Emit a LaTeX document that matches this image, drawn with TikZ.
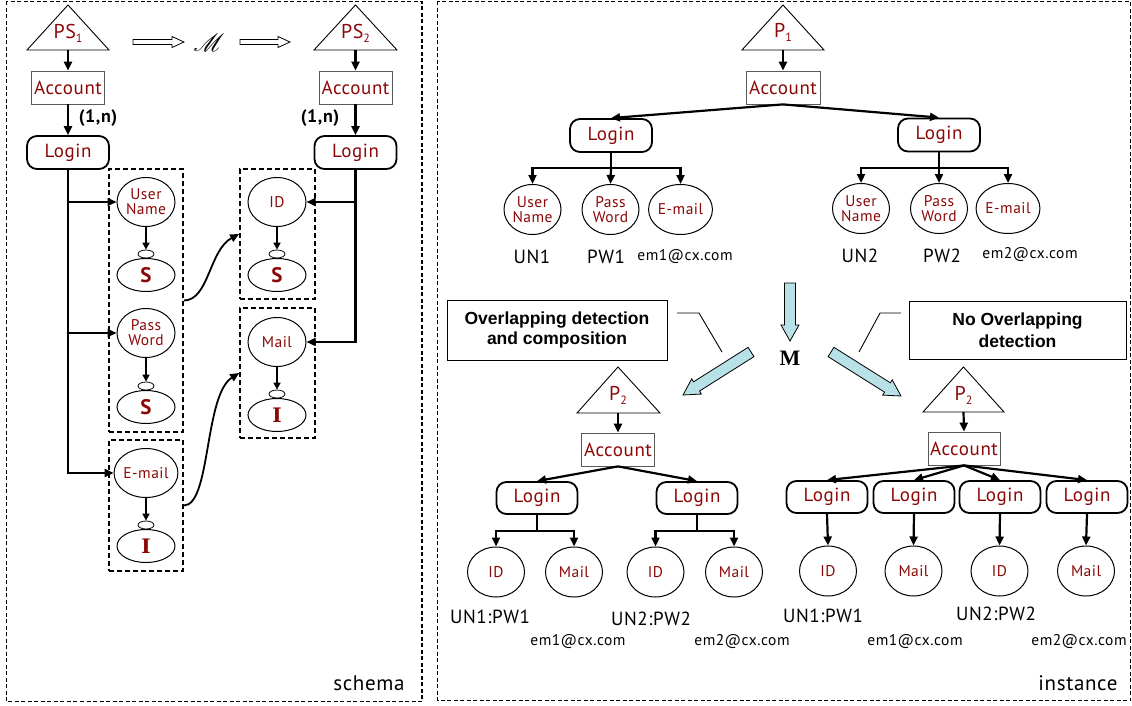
\documentclass[tikz,border=0pt]{standalone}
\usepackage{fontspec}
\usepackage{mathrsfs}
\usetikzlibrary{arrows.meta,shapes.geometric,calc}
\newfontfamily\labfont[LetterSpace=3]{PT Sans}
\newfontfamily\boxfont{Liberation Sans}
\newfontfamily\mfont{Liberation Serif}
\newfontfamily\slabfont{DejaVu Serif}
\definecolor{lab}{RGB}{139,8,8}
\definecolor{cyanfill}{RGB}{183,224,231}
\newcommand\fs[1]{\fontsize{#1}{1.15\dimexpr#1pt\relax}\selectfont}
\newcommand\sub[1]{{\fs{12}\raisebox{-4pt}{#1}}}
% block arrow between two named points: from, to, half shaft, half head, head length, fill
\newcommand\blockarrow[6]{%
  \coordinate (hb) at ($(#2)!#5!(#1)$);
  \draw[line width=0.8pt, fill=#6, line join=miter]
    ($(#1)!#3!90:(#2)$) -- ($(#1)!#3!-90:(#2)$) -- ($(hb)!#3!-90:(#2)$)
    -- ($(hb)!#4!-90:(#2)$) -- (#2) -- ($(hb)!#4!90:(#2)$)
    -- ($(hb)!#3!90:(#2)$) -- cycle;}

\begin{document}
\begin{tikzpicture}[x=1pt,y=-1pt,
  conn/.style={line width=2.2pt,-{Triangle[length=9pt,width=8pt]}},
  plain/.style={line width=2.2pt},
  thin/.style={line width=0.9pt},
  tri/.style={draw,line width=0.9pt,fill=white},
  trilab/.style={font=\labfont\fs{20},text=lab,inner sep=0pt},
  acc/.style={draw=black!65,line width=0.8pt,fill=white,minimum width=73pt,minimum height=33pt,inner sep=0pt,font=\labfont\fs{19},text=lab},
  login/.style={draw,line width=1.8pt,rounded corners=10pt,minimum width=82pt,minimum height=33pt,inner sep=0pt,font=\labfont\fs{19},text=lab},
  attr/.style={ellipse,draw,line width=1pt,minimum width=58pt,minimum height=49pt,inner sep=0pt,font=\labfont\fs{15.5},text=lab,align=center},
  inst/.style={ellipse,draw,line width=1pt,minimum width=57pt,minimum height=50pt,inner sep=0pt,font=\labfont\fs{15.5},text=lab,align=center},
  typ/.style={ellipse,draw,line width=1pt,minimum width=58pt,minimum height=33pt,inner sep=0pt,font=\labfont\bfseries\fs{21},text=lab},
  knob/.style={ellipse,draw,line width=0.8pt,minimum width=16pt,minimum height=8pt,inner sep=0pt},
  grp/.style={draw,line width=1.6pt,dash pattern=on 5pt off 3pt,inner sep=0pt},
  frame/.style={draw,line width=1.4pt,dash pattern=on 4pt off 2.5pt},
  val/.style={font=\labfont\fs{19},inner sep=0pt},
  mailval/.style={font=\labfont\fs{15.5},inner sep=0pt},
  note/.style={draw,line width=0.9pt,fill=white,font=\boxfont\bfseries\fs{17.5},align=center,inner sep=0pt}
]
\useasboundingbox (0,0) rectangle (1132,706);

% ---------------- panel frames ----------------
\path[frame] (6.5,1.5) rectangle (422,701.5);
\path[frame] (437.5,1.5) rectangle (1130.5,700.5);
\node[font=\labfont\fs{21},anchor=east] (schema) at (408,683) {schema};
\node[font=\labfont\fs{21},anchor=east] (instance) at (1121,683) {instance};

% ================= schema =================
\draw[tri] (68,5) -- (109,50) -- (27,50) -- cycle;
\node[trilab] (ps1) at (68,33) {PS\sub{1}};
\coordinate (ps1b) at (68,50);
\draw[tri] (355.5,5) -- (397,50) -- (314,50) -- cycle;
\node[trilab] (ps2) at (355.5,33) {PS\sub{2}};
\coordinate (ps2b) at (355.5,50);

\node[inner sep=0pt,font=\fs{24}] (mm) at (209,43) {$\mathscr{M}$};
\coordinate (ha1) at (133,42); \coordinate (hb1) at (184,42);
\coordinate (ha2) at (240,42); \coordinate (hb2) at (290,42);
\blockarrow{ha1}{hb1}{2.5pt}{5.5pt}{12pt}{white}
\blockarrow{ha2}{hb2}{2.5pt}{5.5pt}{12pt}{white}

\node[acc] (acc1) at (68,87.5) {Account};
\node[login] (login1) at (68,152.5) {Login};
\node[acc] (acc2) at (355.5,87.5) {Account};
\node[login] (login2) at (355.5,152.5) {Login};
\draw[conn] (ps1b) -- (acc1.north);
\draw[conn] (ps2b) -- (acc2.north);
\draw[conn] (acc1.south) -- (login1.north);
\draw[conn] (acc2.south) -- (login2.north);
\node[font=\labfont\bfseries\fs{18}] (card1) at (98,118) {(1,n)};
\node[font=\labfont\bfseries\fs{18}] (card2) at (320,118) {(1,n)};

% groups
\node[grp,minimum width=74pt,minimum height=263pt] (g1) at (146,300.5) {};
\node[grp,minimum width=74pt,minimum height=131pt] (g2) at (146,505.5) {};
\node[grp,minimum width=75pt,minimum height=130pt] (g3) at (277.5,234) {};
\node[grp,minimum width=75pt,minimum height=130pt] (g4) at (277.5,373) {};

\node[attr] (uname) at (146,202) {User\\[-3pt]Name};
\node[knob] (k1) at (146,254) {};
\node[typ] (s1) at (146,275) {S};
\node[attr] (pword) at (146,333) {Pass\\[-3pt]Word};
\node[knob] (k2) at (146,386) {};
\node[typ] (s2) at (146,407) {S};
\node[attr] (email) at (146,473) {E-mail};
\node[knob] (k3) at (146,525) {};
\node[typ,font=\slabfont\bfseries\fs{20}] (i1) at (146,546) {I};

\node[attr] (id) at (277,202) {ID};
\node[knob] (k4) at (277,254) {};
\node[typ] (s3) at (277,275) {S};
\node[attr] (mail) at (277,342) {Mail};
\node[knob] (k5) at (277,394) {};
\node[typ,font=\slabfont\bfseries\fs{20}] (i2) at (277,415) {I};

\foreach \a/\b in {uname/k1,pword/k2,email/k3,id/k4,mail/k5}
  \draw[line width=1.6pt,-{Triangle[length=7pt,width=7pt]}] (\a.south) -- (\b.north);

\draw[conn] (login1.south) |- (email.west);
\draw[conn] (login1.south |- uname.west) -- (uname.west);
\draw[conn] (login1.south |- pword.west) -- (pword.west);
\draw[conn] (login2.south) |- (mail.east);
\draw[conn] (login2.south |- id.east) -- (id.east);

\draw[line width=1.8pt,-{Triangle[length=9pt,width=8pt]}]
  (g1.east) .. controls +(25,0) and +(-30,16) .. (g3.west);
\draw[line width=1.8pt,-{Triangle[length=9pt,width=8pt]}]
  (g2.east) .. controls +(27,0) and +(-35,22) .. (g4.west);

% ================= instance =================
\draw[tri] (783,5) -- (824,50) -- (742,50) -- cycle;
\node[trilab] (p1) at (783,32) {P\sub{1}};
\coordinate (p1b) at (783,50);
\node[acc,minimum width=74pt] (accI) at (783,87.5) {Account};
\draw[conn] (p1b) -- (accI.north);
\node[login] (lgA) at (611,135.5) {Login};
\node[login] (lgB) at (939,135) {Login};
\draw[conn] (accI.south) -- (lgA.north);
\draw[conn] (accI.south) -- (lgB.north);

\node[inst] (un1) at (532.5,209.5) {User\\[-3pt]Name};
\node[inst] (pw1) at (610.5,209.5) {Pass\\[-3pt]Word};
\node[inst] (em1) at (680.5,209.5) {E-mail};
\node[inst] (un2) at (861,208.5) {User\\[-3pt]Name};
\node[inst] (pw2) at (939,208.5) {Pass\\[-3pt]Word};
\node[inst] (em2) at (1008,208.5) {E-mail};
\coordinate (barA) at (611,168);
\coordinate (barB) at (939,168);
\draw[plain] (lgA.south) -- (barA);
\draw[conn] (barA) -| (un1.north);
\draw[conn] (barA) -- (pw1.north);
\draw[conn] (barA) -| (em1.north);
\draw[plain] (lgB.south) -- (barB);
\draw[conn] (barB) -| (un2.north);
\draw[conn] (barB) -- (pw2.north);
\draw[conn] (barB) -| (em2.north);

\node[val] (vun1) at (532,257) {UN1};
\node[val] (vpw1) at (606,257) {PW1};
\node[mailval] (vem1) at (685,257) {em1@cx.com};
\node[val] (vun2) at (860,256) {UN2};
\node[val] (vpw2) at (942,256) {PW2};
\node[mailval] (vem2) at (1030,255) {em2@cx.com};

% mapping arrows and notes
\node[font=\mfont\bfseries\fs{22},inner sep=0pt] (M) at (790,358) {M};
\coordinate (dA) at (790,283); \coordinate (dB) at (790,341);
\blockarrow{dA}{dB}{5.5pt}{9pt}{16pt}{cyanfill}
\coordinate (lA) at (751,352); \coordinate (lB) at (683,395);
\blockarrow{lA}{lB}{5.5pt}{9pt}{16pt}{cyanfill}
\coordinate (rA) at (831,352); \coordinate (rB) at (901,396);
\blockarrow{rA}{rB}{5.5pt}{9pt}{16pt}{cyanfill}

\node[note,minimum width=220pt,minimum height=60pt] (noteL) at (557,330)
  {Overlapping detection\\[0pt]and composition};
\node[note,minimum width=217pt,minimum height=58pt] (noteR) at (1017.5,330)
  {No Overlapping\\[2pt]detection};
\coordinate (lq1) at (677,313); \coordinate (lq2) at (699,313); \coordinate (lq3) at (722,352);
\coordinate (rq1) at (901,313); \coordinate (rq2) at (880,313); \coordinate (rq3) at (859,352);
\draw[thin] (lq1) -- (lq2) -- (lq3);
\draw[thin] (rq1) -- (rq2) -- (rq3);

% result with composition
\draw[tri] (618,367) -- (660,413) -- (577,413) -- cycle;
\node[trilab] (p2a) at (618,395) {P\sub{2}};
\coordinate (p2ab) at (618,413);
\node[acc] (accL) at (618,449.5) {Account};
\draw[conn] (p2ab) -- (accL.north);
\node[login,minimum width=81pt,minimum height=32pt] (lgC) at (537,498) {Login};
\node[login,minimum width=81pt,minimum height=32pt] (lgD) at (697,498) {Login};
\draw[conn] (accL.south) -- (lgC.north);
\draw[conn] (accL.south) -- (lgD.north);
\node[inst] (idC) at (496,572) {ID};
\node[inst] (mlC) at (574,572) {Mail};
\node[inst] (idD) at (655.5,572) {ID};
\node[inst] (mlD) at (734,572) {Mail};
\coordinate (barC) at (537,531);
\coordinate (barD) at (697,531);
\draw[plain] (lgC.south) -- (barC);
\draw[conn] (barC) -| (idC.north);
\draw[conn] (barC) -| (mlC.north);
\draw[plain] (lgD.south) -- (barD);
\draw[conn] (barD) -| (idD.north);
\draw[conn] (barD) -| (mlD.north);
\node[val] (vC1) at (490,617) {UN1:PW1};
\node[mailval] (vC2) at (578,642) {em1@cx.com};
\node[val] (vD1) at (651,619) {UN2:PW2};
\node[mailval] (vD2) at (742,642) {em2@cx.com};

% result without composition
\draw[tri] (963.5,367) -- (1004,412) -- (923,412) -- cycle;
\node[trilab] (p2b) at (963.5,395) {P\sub{2}};
\coordinate (p2bb) at (963.5,412);
\node[acc,minimum width=72pt] (accR) at (964,448.5) {Account};
\draw[conn] (p2bb) -- (accR.north);
\foreach \n/\x in {lgE/827,lgF/914,lgG/1000,lgH/1087}{
  \node[login,minimum width=81pt,minimum height=32pt] (\n) at (\x,497) {Login};
  \draw[conn] (accR.south) -- (\n.north);
}
\node[inst] (idE) at (828,571) {ID};
\node[inst] (mlF) at (913.5,571) {Mail};
\node[inst] (idG) at (999.5,571) {ID};
\node[inst] (mlH) at (1086,571) {Mail};
\draw[conn] (lgE.south) -- (idE.north);
\draw[conn] (lgF.south) -- (mlF.north);
\draw[conn] (lgG.south) -- (idG.north);
\draw[conn] (lgH.south) -- (mlH.north);
\node[val] (vE1) at (823,616) {UN1:PW1};
\node[mailval] (vE2) at (915,642) {em1@cx.com};
\node[val] (vG1) at (996,614) {UN2:PW2};
\node[mailval] (vG2) at (1079,642) {em2@cx.com};
\end{tikzpicture}
\end{document}
